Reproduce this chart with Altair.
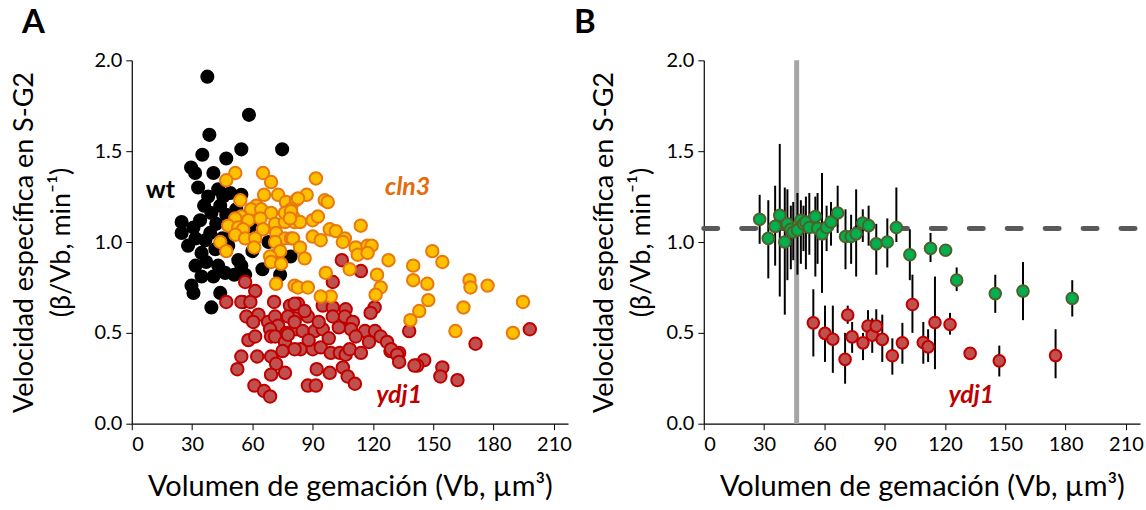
import altair as alt
import pandas as pd

FONT = "Lato"

# ---------------- Panel A data ----------------
wt_x = [37.6, 58.3, 38.6, 35.1, 54.5, 74.8, 47, 29.5, 31.5, 40.6, 43, 24.8, 24.8, 30.7, 34, 39.6, 44, 45.5, 49, 54.5,
        31.7, 36.6, 39, 34.7, 41.6, 31.7, 37, 43, 46.5, 34.7, 40.6, 53, 54.5, 79, 73.8, 29.7, 30.7, 39.6, 44, 56.4,
        55.4, 42, 47, 50, 52, 36, 28, 48, 60, 65, 70, 58, 38, 45, 51, 62, 68, 33]
wt_y = [1.91, 1.70, 1.59, 1.48, 1.51, 1.51, 1.46, 1.41, 1.38, 1.38, 1.29, 1.11, 1.05, 1.08, 1.12, 1.16, 1.20, 1.25, 1.27, 1.26,
        1.02, 1.01, 1.05, 0.94, 0.96, 0.87, 0.89, 0.87, 0.83, 0.81, 0.81, 0.90, 0.87, 0.92, 0.82, 0.76, 0.72, 0.64, 0.72, 0.82,
        0.67, 1.10, 1.15, 1.05, 1.18, 1.20, 0.98, 0.98, 0.95, 0.85, 0.92, 1.05, 1.25, 1.02, 0.82, 1.10, 1.00, 1.30]

cln3_x = [51.5, 47, 65.3, 69.3, 65.8, 72.8, 54, 76.7, 81.7, 62, 59.4, 64.4, 69.3, 54.5, 51.5, 58, 64, 48, 53, 55.4,
          65.3, 71.3, 76.2, 81, 51.5, 56.4, 61.4, 71.8, 76.2, 79.2, 44, 47, 60.9, 71.3, 73.8, 68.8, 69.3, 74.3, 71.8, 81,
          91.6, 87, 82.7, 96, 79.2, 80.2, 83.7, 90, 92.6, 113.9, 98.5, 101.5, 80.2, 90, 94, 106, 105, 83.7, 111.4, 117.3,
          119.3, 112.4, 117.3, 86, 127.7, 96.5, 108.4, 122, 140, 97.5, 149.5, 154.5, 140, 147, 147.5, 123.8, 121.3, 143, 138.6, 168,
          168.5, 177, 165, 161, 194.6, 189.6, 99, 82.7, 87.6, 94, 76.2, 79.2, 78.7]
cln3_y = [1.38, 1.34, 1.38, 1.33, 1.26, 1.26, 1.23, 1.22, 1.23, 1.20, 1.18, 1.18, 1.16, 1.14, 1.13, 1.12, 1.13, 1.09, 1.08, 1.07,
          1.07, 1.10, 1.11, 1.11, 1.04, 1.02, 1.02, 1.05, 1.02, 1.02, 1.00, 0.95, 0.97, 1.00, 0.95, 0.92, 0.89, 0.88, 0.77, 0.76,
          1.35, 1.26, 1.24, 1.23, 1.18, 1.14, 1.11, 1.12, 1.14, 1.09, 1.07, 1.06, 1.02, 1.03, 1.01, 1.02, 1.00, 0.97, 0.97, 0.98,
          0.98, 0.93, 0.94, 0.91, 0.90, 0.83, 0.85, 0.82, 0.87, 1.22, 0.95, 0.89, 0.79, 0.77, 0.68, 0.75, 0.71, 0.62, 0.57, 0.79,
          0.75, 0.76, 0.64, 0.51, 0.67, 0.50, 0.70, 0.75, 0.75, 0.70, 1.16, 1.17, 1.13]

ydj1_x = [198, 171, 145.5, 142, 154.5, 153.5, 162, 138, 104.5, 114, 100, 120.8, 118.8, 106.4, 109, 116, 121, 123.8, 127, 128.7,
          133, 140.6, 82.7, 95, 100, 106, 110, 109, 111.4, 100, 87.6, 81.2, 81.7, 85, 91, 95, 84, 90, 94, 99,
          103.5, 106.4, 108.4, 114, 129, 132, 133, 92, 98.5, 105, 107.4, 111, 87.6, 91.6, 56.4, 61.4, 47, 54.5, 59, 70.8,
          78.7, 81, 57, 63, 60.4, 67.8, 71.3, 72.8, 77.7, 81, 68.8, 69.3, 71.3, 58, 61.4, 76.2, 81, 54.5, 62.4, 69.3,
          71.8, 52.5, 69.3, 76.2, 61, 65.8, 68.8, 77, 88, 93, 86, 75, 98, 103, 118, 77.7]
ydj1_y = [0.52, 0.44, 0.35, 0.32, 0.31, 0.26, 0.24, 0.51, 0.90, 0.84, 0.78, 0.64, 0.61, 0.63, 0.56, 0.51, 0.51, 0.48, 0.45, 0.40,
          0.39, 0.32, 0.66, 0.65, 0.64, 0.59, 0.56, 0.52, 0.48, 0.59, 0.59, 0.58, 0.52, 0.51, 0.51, 0.52, 0.41, 0.41, 0.42, 0.39,
          0.39, 0.38, 0.41, 0.39, 0.41, 0.38, 0.34, 0.30, 0.28, 0.31, 0.26, 0.22, 0.21, 0.21, 0.78, 0.73, 0.67, 0.67, 0.67, 0.67,
          0.65, 0.66, 0.59, 0.60, 0.56, 0.56, 0.59, 0.54, 0.59, 0.56, 0.52, 0.48, 0.48, 0.46, 0.48, 0.45, 0.41, 0.37, 0.37, 0.37,
          0.33, 0.30, 0.27, 0.28, 0.21, 0.18, 0.15, 0.50, 0.46, 0.56, 0.62, 0.40, 0.47, 0.53, 0.45, 0.49]

# ---------------- Panel B data ----------------
wtB_x = [27.8, 32.1, 35.5, 37.8, 40.3, 41.6, 43.3, 44.5, 46.6, 48.3, 49.6, 50.8, 52.5, 55.5, 56.6, 58.8, 61.1, 63.3, 66.6, 70.5,
         73.3, 75.8, 79.1, 82, 85.8, 91.3, 95.8, 102.5, 112.8, 120.3, 125.8, 145, 158.8, 183.3]
wtB_y = [1.125, 1.02, 1.086, 1.147, 1.00, 1.10, 1.07, 1.055, 1.065, 1.12, 1.10, 1.11, 1.08, 1.14, 1.075, 1.045, 1.08, 1.11, 1.16, 1.03,
         1.03, 1.045, 1.105, 1.09, 0.99, 1.00, 1.08, 0.93, 0.965, 0.955, 0.79, 0.716, 0.73, 0.69]
wtB_lo = [0.99, 0.80, 0.87, 0.70, 0.60, 0.79, 0.85, 0.90, 0.82, 0.88, 0.95, 0.85, 0.93, 0.81, 0.88, 0.72, 0.95, 0.98, 1.05, 0.85,
          0.88, 0.81, 1.00, 0.98, 0.82, 0.86, 1.00, 0.79, 0.89, 0.955, 0.73, 0.61, 0.57, 0.59]
wtB_hi = [1.26, 1.23, 1.31, 1.54, 1.30, 1.29, 1.20, 1.22, 1.27, 1.23, 1.20, 1.25, 1.27, 1.25, 1.27, 1.38, 1.20, 1.22, 1.31, 1.18,
          1.15, 1.29, 1.18, 1.20, 1.10, 1.13, 1.30, 1.07, 1.05, 0.955, 0.86, 0.82, 0.89, 0.79]

ydjB_x = [54.5, 60.3, 64.2, 70.3, 71.6, 73.8, 79.2, 81.7, 83.8, 85.8, 88.8, 93.8, 98.8, 103.8, 109.2, 111.6, 115, 122.5, 132.5, 147, 175]
ydjB_y = [0.555, 0.497, 0.465, 0.354, 0.598, 0.478, 0.445, 0.537, 0.487, 0.537, 0.464, 0.374, 0.445, 0.656, 0.447, 0.423, 0.557, 0.546, 0.387, 0.346, 0.375]
ydjB_lo = [0.37, 0.34, 0.28, 0.22, 0.55, 0.39, 0.35, 0.47, 0.39, 0.49, 0.34, 0.27, 0.33, 0.50, 0.33, 0.34, 0.30, 0.49, 0.387, 0.26, 0.25]
ydjB_hi = [0.74, 0.65, 0.65, 0.50, 0.65, 0.56, 0.50, 0.625, 0.58, 0.63, 0.60, 0.47, 0.555, 0.82, 0.56, 0.52, 0.81, 0.61, 0.387, 0.43, 0.52]

ref_y = [1.074]
ref_x = [46.2]

x_ticks = [0, 30, 60, 90, 120, 150, 180, 210]
y_ticks = [0.0, 0.5, 1.0, 1.5, 2.0]

X_TITLE = "Volumen de gemación (Vb, µm³)"
Y_TITLE = ["Velocidad específica en S-G2", "(β/Vb, min⁻¹)"]

W, H = 437, 364

df_wt = pd.DataFrame({"x": wt_x, "y": wt_y})
df_cln3 = pd.DataFrame({"x": cln3_x, "y": cln3_y})
df_ydj1 = pd.DataFrame({"x": ydj1_x, "y": ydj1_y})
df_wtB = pd.DataFrame({"x": wtB_x, "y": wtB_y, "lo": wtB_lo, "hi": wtB_hi})
df_ydjB = pd.DataFrame({"x": ydjB_x, "y": ydjB_y, "lo": ydjB_lo, "hi": ydjB_hi})
df_err = pd.concat([df_wtB, df_ydjB], ignore_index=True)
one = pd.DataFrame({"k": [0]})


def xenc(title_padding=18):
    return alt.X("x:Q", scale=alt.Scale(domain=[0, 217], nice=False, zero=False),
                 axis=alt.Axis(values=x_ticks, title=X_TITLE, grid=False, format="d",
                               domainColor="black", tickColor="black", tickSize=6, domainWidth=1.2,
                               labelFontSize=20, titleFontSize=29, labelFont=FONT, titleFont=FONT,
                               labelColor="black", titleColor="black", titleFontWeight="normal",
                               labelPadding=5, titlePadding=title_padding))


def yenc(title_padding):
    return alt.Y("y:Q", scale=alt.Scale(domain=[0, 2], nice=False),
                 axis=alt.Axis(values=y_ticks, title=Y_TITLE, grid=False, format=".1f",
                               domainColor="black", tickColor="black", tickSize=6, domainWidth=1.2,
                               labelFontSize=20, titleFontSize=27, labelFont=FONT, titleFont=FONT,
                               labelColor="black", titleColor="black", titleFontWeight="normal",
                               labelPadding=4, titlePadding=title_padding, titleLineHeight=38))


def label(text, x, y, color, size=25, italic=False):
    kw = dict(text=text, font=FONT, fontSize=size, fontWeight="bold", color=color,
              align="left", baseline="alphabetic")
    if italic:
        kw["fontStyle"] = "italic"
    return alt.Chart(one).mark_text(**kw).encode(x=x, y=y)


# ---------------- Panel A ----------------
base_a = alt.Chart(df_wt).mark_circle(size=200, color="black", opacity=1).encode(x=xenc(), y=yenc(18))
red_a = alt.Chart(df_ydj1).mark_point(shape="circle", size=155, filled=True, fill="#C0504D",
                                      stroke="#C00000", strokeWidth=2, opacity=1).encode(x="x:Q", y="y:Q")
org_a = alt.Chart(df_cln3).mark_point(shape="circle", size=155, filled=True, fill="#FFC000",
                                      stroke="#E8780F", strokeWidth=2, opacity=1).encode(x="x:Q", y="y:Q")

txt_wt = label("wt", alt.datum(7), alt.datum(1.24), "black")
txt_cln3 = label("cln3", alt.datum(126), alt.datum(1.26), "#E46C0A", italic=True)
txt_ydj1a = label("ydj1", alt.datum(121.6), alt.datum(0.115), "#C00000", italic=True)
lab_a = label("A", alt.value(-110), alt.value(-27), "black", size=33)

panel_a = alt.layer(base_a, red_a, org_a, txt_wt, txt_cln3, txt_ydj1a, lab_a).properties(width=W, height=H)

# ---------------- Panel B ----------------
vline = alt.Chart(pd.DataFrame({"x": ref_x})).mark_rule(color="#A6A6A6", strokeWidth=5).encode(
    x=xenc(), y=alt.value(0), y2=alt.value(H))
hline = alt.Chart(pd.DataFrame({"y": ref_y})).mark_rule(color="#595959", strokeWidth=5, strokeDash=[14, 24],
                                                        strokeCap="round").encode(
    y=yenc(10), x=alt.value(0), x2=alt.value(W))
err = alt.Chart(df_err).mark_rule(color="black", strokeWidth=2).encode(x="x:Q", y="lo:Q", y2="hi:Q")
red_b = alt.Chart(df_ydjB).mark_point(shape="circle", size=135, filled=True, fill="#C0504D",
                                      stroke="#C00000", strokeWidth=2, opacity=1).encode(x="x:Q", y="y:Q")
grn_b = alt.Chart(df_wtB).mark_point(shape="circle", size=135, filled=True, fill="#00B050",
                                     stroke="#4F6228", strokeWidth=2, opacity=1).encode(x="x:Q", y="y:Q")
txt_ydj1b = label("ydj1", alt.datum(121.7), alt.datum(0.115), "#C00000", italic=True)
lab_b = label("B", alt.value(-130), alt.value(-27), "black", size=33)

panel_b = alt.layer(hline, vline, err, red_b, grn_b, txt_ydj1b, lab_b).properties(width=W, height=H)

chart = alt.hconcat(panel_a, panel_b, spacing=2).properties(
    padding={"left": 10, "top": 7, "right": 2, "bottom": 2},
    background="white",
).configure_view(stroke=None)

chart.save("out.html", embed_options={"renderer": "svg", "actions": False})
